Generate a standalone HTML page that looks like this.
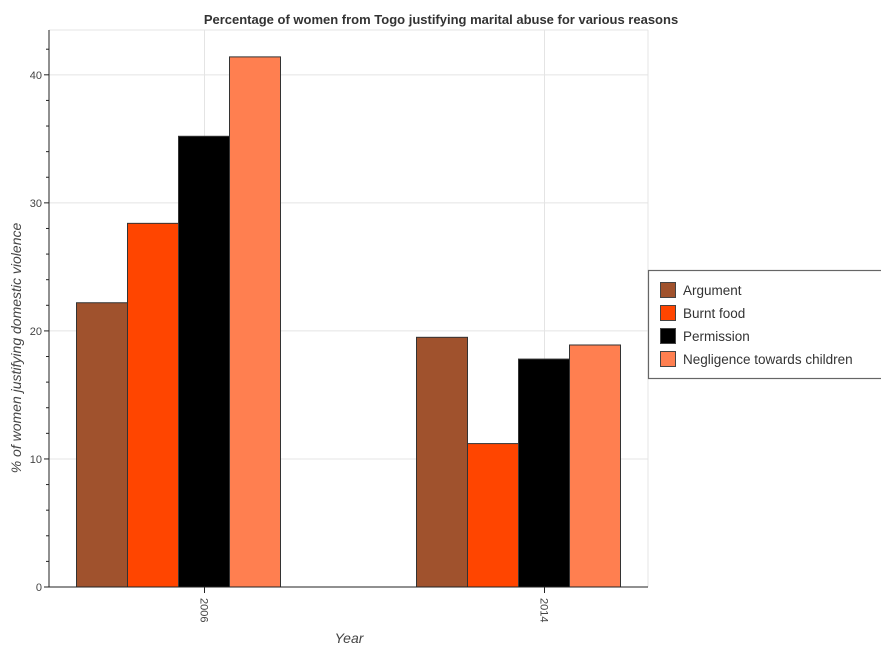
<!DOCTYPE html>
<html><head><meta charset="utf-8"><style>
body{margin:0;background:#fff;font-family:"Liberation Sans",sans-serif}
</style></head><body>
<svg width="881" height="650" id="c" xmlns="http://www.w3.org/2000/svg" font-family="Liberation Sans, sans-serif">
<text x="441" y="24" text-anchor="middle" font-size="13" font-weight="bold" fill="#333">Percentage of women from Togo justifying marital abuse for various reasons</text>
<g id="grid"></g><g id="bars"></g><g id="axes"></g>
<text transform="translate(21,348) rotate(-90)" text-anchor="middle" font-size="14" font-style="italic" fill="#444">% of women justifying domestic violence</text>
<text x="349" y="643" text-anchor="middle" font-size="14" font-style="italic" fill="#444">Year</text>
<g>
<rect x="648.5" y="270.5" width="240" height="108" fill="#fff" stroke="#666" stroke-width="1.2"/>
<g id="leg"></g></g>
</svg>
<script>
const years=["2006","2014"];
const seriesNames=["Argument","Burnt food","Permission","Negligence towards children"];
const argument=[22.2,19.5];
const burntFood=[28.4,11.2];
const permission=[35.2,17.8];
const negligence=[41.4,18.9];
const yTicks=[0,10,20,30,40];
const colors=["#a0522d","#ff4500","#000000","#ff7f50"];
const all=[argument,burntFood,permission,negligence];
const L=49,R=648,T=30,B=587,ymax=43.5;
const y=v=>B-v/ymax*(B-T);
const xc=i=>204.5+i*340;
const NS="http://www.w3.org/2000/svg";
function mk(t,a,p){const e=document.createElementNS(NS,t);for(const k in a)e.setAttribute(k,a[k]);p.appendChild(e);return e;}
const g=document.getElementById('grid'),bg=document.getElementById('bars'),ax=document.getElementById('axes'),lg=document.getElementById('leg');
yTicks.forEach(t=>{const l=mk('line',{x1:L,x2:R,y1:y(t),y2:y(t),stroke:'#e4e4e4'},g);


const tx=mk('text',{x:L-7,y:y(t)+4,'text-anchor':'end','font-size':11,fill:'#444'},ax);tx.textContent=t;


mk('line',{x1:L-5,x2:L,y1:y(t),y2:y(t),stroke:'#222'},ax);});
for(let v=2;v<ymax;v+=2){if(v%10)mk('line',{x1:L-3,x2:L,y1:y(v),y2:y(v),stroke:'#222'},ax);}
mk('line',{x1:R,x2:R,y1:T,y2:B,stroke:'#e4e4e4'},g);
mk('line',{x1:L,x2:R,y1:T,y2:T,stroke:'#e4e4e4'},g);
years.forEach((yr,i)=>{mk('line',{x1:xc(i),x2:xc(i),y1:T,y2:B,stroke:'#e4e4e4'},g);
mk('line',{x1:xc(i),x2:xc(i),y1:B,y2:B+6,stroke:'#222'},ax);
const tx=mk('text',{transform:'translate('+(xc(i)-4)+','+(B+11)+') rotate(90)','font-size':11,fill:'#444'},ax);tx.textContent=yr;


all.forEach((s,j)=>{const x0=xc(i)-128+j*51;
const r=mk('rect',{x:x0,y:y(s[i]),width:51,height:B-y(s[i]),fill:colors[j],stroke:'#333','stroke-width':1},bg);

});});
mk('line',{x1:L,x2:L,y1:T,y2:B,stroke:'#222'},ax);
mk('line',{x1:L,x2:R,y1:B,y2:B,stroke:'#222'},ax);
seriesNames.forEach((n,j)=>{const yy=290+j*23;
const r=mk('rect',{x:660.5,y:yy-7.5,width:15,height:15,fill:colors[j],stroke:'#444'},lg);


const t=mk('text',{x:683,y:yy+5,'font-size':13.5,fill:'#333'},lg);t.textContent=n;

});
</script>
</body></html>
